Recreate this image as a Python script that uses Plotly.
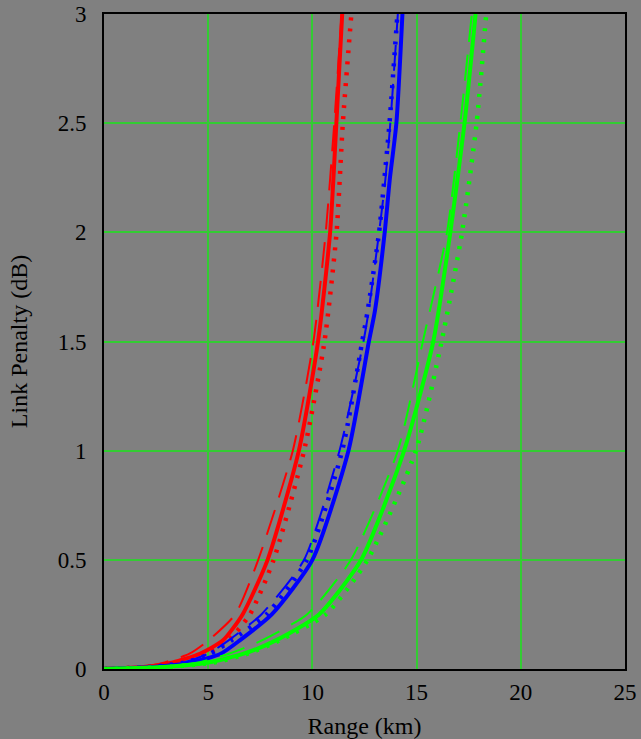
import plotly.graph_objects as go

# Link penalty (dB) levels at which each curve's range (km) is tabulated
penalty_db = [0, 0.01, 0.03, 0.07, 0.13, 0.25, 0.5, 1.0, 1.5, 2.0, 2.5, 3.0]

# Range (km) for each configuration
red_solid = [0, 2.0, 3.3, 4.6, 5.7, 6.65, 7.85, 9.35, 10.27, 10.85, 11.15, 11.43]
red_dash = [0, 1.8, 2.9, 4.1, 5.0, 6.3, 7.4, 9.06, 10.05, 10.64, 11.05, 11.4]
red_dot = [0, 2.1, 3.5, 4.9, 5.96, 7.0, 8.14, 9.6, 10.58, 11.16, 11.46, 11.87]

blue_pen = [0, 0.01, 0.03, 0.07, 0.13, 0.25, 0.5, 1.0, 1.5, 1.64, 2.0, 2.24, 2.5, 3.0]
blue_solid = [0, 2.5, 4.2, 5.6, 6.5, 8.05, 10.0, 11.73, 12.71, 13.0, 13.47, 13.71, 14.03, 14.32]
blue_dash = [0, 2.2, 3.8, 5.0, 5.96, 7.55, 9.6, 11.3, 12.45, 12.7, 13.2, 13.5, 13.74, 14.1]
blue_dot = [0, 2.3, 3.9, 5.1, 6.1, 7.8, 9.74, 11.43, 12.39, 12.65, 13.2, 13.45, 13.7, 14.08]

green_solid = [0, 3.0, 5.0, 6.7, 8.22, 10.32, 12.34, 14.4, 15.8, 16.62, 17.3, 17.83]
green_dash = [0, 2.6, 4.5, 6.0, 7.55, 9.74, 11.85, 14.1, 15.3, 16.46, 17.1, 17.65]
green_dot = [0, 3.2, 5.3, 6.9, 8.4, 10.64, 12.65, 14.97, 16.2, 17.18, 17.88, 18.34]

RED, BLUE, GREEN = "#ff0000", "#0000ff", "#00ff00"
SOLID = dict(width=4, dash="solid")
DASHED = dict(width=2, dash="26px,13px")
DOTTED = dict(width=4.5, dash="3px,8px")

series = [
    (red_solid, penalty_db, RED, SOLID),
    (red_dash, penalty_db, RED, DASHED),
    (red_dot, penalty_db, RED, DOTTED),
    (blue_solid, blue_pen, BLUE, SOLID),
    (blue_dash, blue_pen, BLUE, DASHED),
    (blue_dot, blue_pen, BLUE, DOTTED),
    (green_solid, penalty_db, GREEN, SOLID),
    (green_dash, penalty_db, GREEN, DASHED),
    (green_dot, penalty_db, GREEN, DOTTED),
]

fig = go.Figure()
for xs, ys, color, style in series:
    fig.add_trace(go.Scatter(
        x=xs, y=ys, mode="lines", showlegend=False,
        line=dict(color=color, shape="spline", smoothing=0.6, **style),
    ))

FONT = "Liberation Serif"
axis_common = dict(
    showgrid=True, gridcolor="#33cc33", gridwidth=1.5,
    showline=True, linecolor="black", linewidth=2, mirror=True,
    zeroline=False, ticks="", automargin=False,
    tickfont=dict(family=FONT, size=23, color="black"),
)

fig.update_layout(
    width=641, height=739,
    margin=dict(l=104, r=16, t=14, b=70),
    paper_bgcolor="#808080", plot_bgcolor="#808080",
    font=dict(family=FONT, size=23, color="black"),
    xaxis=dict(range=[0, 25], dtick=5, ticklabelstandoff=1,
               title=dict(text="Range (km)", font=dict(family=FONT, size=24), standoff=17),
               **axis_common),
    yaxis=dict(range=[0, 3], dtick=0.5, ticklabelstandoff=11,
               title=dict(text="Link Penalty (dB)", font=dict(family=FONT, size=24), standoff=23),
               **axis_common),
)

fig.write_html("out.html")
